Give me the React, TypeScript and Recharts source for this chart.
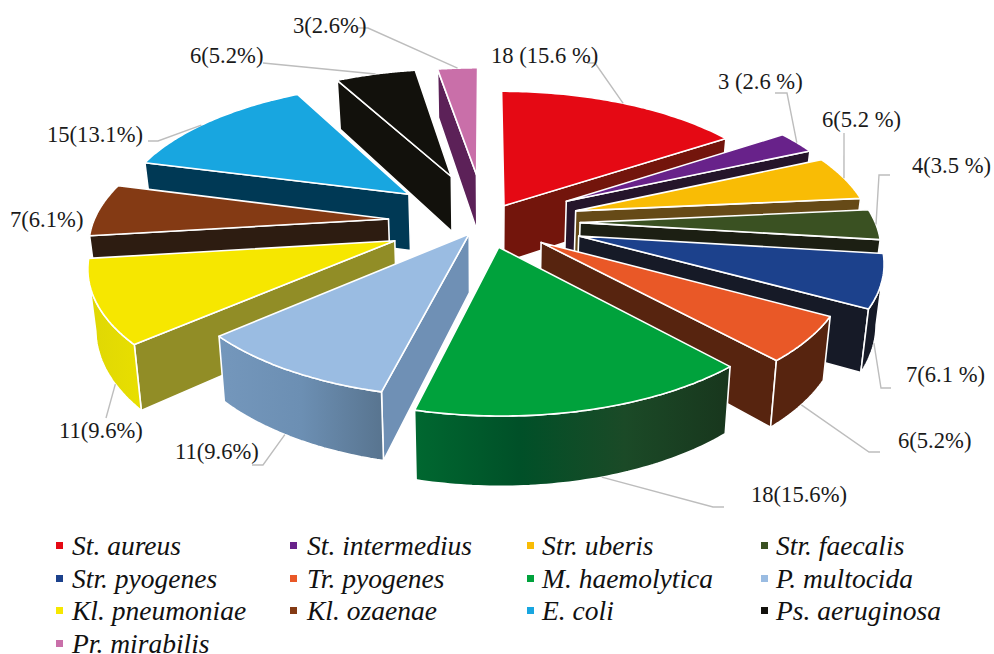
import { Legend, Pie, PieChart } from 'recharts';

const species = [
  'St. aureus',
  'St. intermedius',
  'Str. uberis',
  'Str. faecalis',
  'Str. pyogenes',
  'Tr. pyogenes',
  'M. haemolytica',
  'P. multocida',
  'Kl. pneumoniae',
  'Kl. ozaenae',
  'E. coli',
  'Ps. aeruginosa',
  'Pr. mirabilis',
];
const counts = [18, 3, 6, 4, 7, 6, 18, 11, 11, 7, 15, 6, 3];
const sliceLabels = [
  '18 (15.6 %)',
  '3 (2.6 %)',
  '6(5.2 %)',
  '4(3.5 %)',
  '7(6.1 %)',
  '6(5.2%)',
  '18(15.6%)',
  '11(9.6%)',
  '11(9.6%)',
  '7(6.1%)',
  '15(13.1%)',
  '6(5.2%)',
  '3(2.6%)',
];

const topColors = [
  '#E50914', '#68228A', '#F9BC05', '#3A5122', '#1C418C', '#E95827', '#00A23C',
  '#9ABCE2', '#F6E700', '#843A14', '#18A6E0', '#12110C', '#C96FA9',
];
const cutColors = [
  '#73150C', '#25152B', '#664A17', '#1C1F13', '#161A27', '#57240F', '#18361D',
  '#6F90B5', '#918D26', '#2D1C11', '#003955', '#12110C', '#5C2158',
];
// outer wall shading, left to right; one colour means flat
const wallStops = [
  ['#73150C'], ['#25152B'], ['#664A17'], ['#1C1F13'], ['#161A27'], ['#57240F'],
  ['#006830', '#005028', '#1B4A27', '#18361D'],
  ['#7497BC', '#6C8FB3', '#58748F'],
  ['#DFD705', '#E8DF00'],
  ['#2D1C11'], ['#003955'], ['#12110C'], ['#5C2158'],
];

// how far each slice is pulled out of the pie, ground units
const explode = [41, 95, 95, 95, 97, 70, 55, 30, 97, 97, 100, 110, 108];
// back to front
const paintOrder = [12, 11, 0, 10, 1, 2, 3, 9, 4, 8, 5, 7, 6];

type Spot = { x: number; y: number; elbow: number[][]; along: number; onWall: boolean };
const labelSpots: Spot[] = [
  { x: 491, y: 63, elbow: [[587, 63], [595, 63]], along: 0.5, onWall: false },
  { x: 718, y: 89, elbow: [[775, 93], [787, 93]], along: 0.5, onWall: false },
  { x: 822, y: 127, elbow: [[844, 133]], along: 0.5, onWall: false },
  { x: 912, y: 173, elbow: [[890, 175], [879, 175]], along: 0.5, onWall: false },
  { x: 906, y: 382, elbow: [[891, 388], [881, 388]], along: 0.5, onWall: true },
  { x: 898, y: 448, elbow: [[880, 452], [869, 452]], along: 0.5, onWall: true },
  { x: 751, y: 502, elbow: [[724, 507], [713, 507]], along: 0.45, onWall: true },
  { x: 175, y: 459, elbow: [[252, 465], [263, 465]], along: 0.55, onWall: true },
  { x: 59, y: 438, elbow: [[106, 418]], along: 0.3, onWall: true },
  { x: 10, y: 227, elbow: [], along: 0.5, onWall: false },
  { x: 47, y: 142, elbow: [[148, 141], [158, 141]], along: 0.45, onWall: false },
  { x: 190, y: 63, elbow: [[263, 63]], along: 0.5, onWall: false },
  { x: 293, y: 33, elbow: [[358, 28], [368, 28]], along: 0.5, onWall: false },
];

const WIDTH = 994;
const HEIGHT = 654;
const TILT = 0.46;
const VIEW_DISTANCE = 2000;
const THICKNESS = 58;
const TAPER = 0.02;
const SERIF = '"Liberation Serif", "Times New Roman", serif';

const rows = species.map((name, i) => ({ name, value: counts[i], slice: i }));

type Pt = { x: number; y: number; drop: number; lowX: number };

// ground plane -> screen, nearer points get larger and thicker, undersides pull slightly inward
const project = (cx: number, cy: number, gx: number, gy: number): Pt => {
  const k = 1 / (1 - gy / VIEW_DISTANCE);
  const x = cx + gx * k;
  return { x, y: cy + gy * TILT * k, drop: THICKNESS * k, lowX: x - (x - cx) * TAPER };
};

// angles arrive in chart convention, measure them clockwise from 12 o'clock instead
const clockwise = (deg: number) => ((90 - deg) * Math.PI) / 180;

const sliceGeometry = (props: any) => {
  const { cx, cy, outerRadius, startAngle, endAngle, slice } = props;
  const a0 = clockwise(startAngle);
  const a1 = clockwise(endAngle);
  const mid = (a0 + a1) / 2;
  const ox = explode[slice] * Math.sin(mid);
  const oy = -explode[slice] * Math.cos(mid);
  const at = (a: number) =>
    project(cx, cy, ox + outerRadius * Math.sin(a), oy - outerRadius * Math.cos(a));
  return { tip: project(cx, cy, ox, oy), at, a0, a1 };
};

const toPath = (pts: { x: number; y: number }[]) =>
  `M${pts.map((p) => `${p.x.toFixed(1)},${p.y.toFixed(1)}`).join('L')}Z`;
const lower = (p: Pt) => ({ x: p.lowX, y: p.y + p.drop });

function SliceShape(props: any) {
  const { slice, rank } = props;
  if (slice !== rank) return <g />;
  const { tip, at, a0, a1 } = sliceGeometry(props);
  const steps = 60;
  const arc: Pt[] = [];
  for (let i = 0; i <= steps; i++) arc.push(at(a0 + ((a1 - a0) * i) / steps));
  const first = arc[0];
  const last = arc[steps];

  // only the part of the rim that runs right to left on screen faces the viewer
  const wall = arc.filter((p, i) =>
    i < steps ? arc[i + 1].x < p.x : arc[i - 1].x > p.x,
  );
  const stops = wallStops[slice];
  const gradId = `wall-${slice}`;
  const edge = { stroke: '#fff', strokeWidth: 1.6, strokeLinejoin: 'round' as const };

  return (
    <g>
      <defs>
        <linearGradient id={gradId} x1="0" y1="0" x2="1" y2="0">
          {stops.map((c, i) => (
            <stop key={i} offset={stops.length > 1 ? i / (stops.length - 1) : 0} stopColor={c} />
          ))}
        </linearGradient>
      </defs>
      {first.x < tip.x && (
        <path d={toPath([tip, first, lower(first), lower(tip)])} fill={cutColors[slice]} {...edge} />
      )}
      {tip.x < last.x && (
        <path d={toPath([last, tip, lower(tip), lower(last)])} fill={cutColors[slice]} {...edge} />
      )}
      {wall.length > 1 && (
        <path d={toPath([...wall, ...wall.map(lower).reverse()])} fill={`url(#${gradId})`} {...edge} />
      )}
      <path d={toPath([tip, ...arc])} fill={topColors[slice]} {...edge} />
    </g>
  );
}

function SliceLabel(props: any) {
  const { slice, rank } = props;
  if (slice !== rank) return <g />;
  const spot = labelSpots[slice];
  const { at, a0, a1 } = sliceGeometry(props);
  const hit = at(a0 + (a1 - a0) * spot.along);
  const end = spot.onWall ? lower(hit) : hit;
  const leader = [...spot.elbow, [end.x, end.y]];
  return (
    <g>
      {spot.elbow.length > 0 && (
        <polyline
          points={leader.map((p) => p.join(',')).join(' ')}
          fill="none"
          stroke="#BDBDBD"
          strokeWidth={1.4}
        />
      )}
      <text x={spot.x} y={spot.y} fontFamily={SERIF} fontSize={22.6} fill="#1A1A1A" stroke="none">
        {sliceLabels[slice]}
      </text>
    </g>
  );
}

const markerColumns = [56, 290, 527, 761];
const nameColumns = [72, 307, 542, 776];
const LEGEND_TOP = 529;
const LEGEND_ROW = 32.7;

function SpeciesLegend() {
  return (
    <div style={{ position: 'relative', width: WIDTH, height: HEIGHT - LEGEND_TOP }}>
      {species.map((name, i) => {
        const top = Math.floor(i / 4) * LEGEND_ROW;
        return (
          <div key={name}>
            <span
              style={{
                position: 'absolute',
                left: markerColumns[i % 4],
                top: top + 12,
                width: 7,
                height: 7,
                background: topColors[i],
              }}
            />
            <span
              style={{
                position: 'absolute',
                left: nameColumns[i % 4],
                top,
                whiteSpace: 'nowrap',
                fontFamily: SERIF,
                fontStyle: 'italic',
                fontSize: 27.5,
                lineHeight: '32px',
                color: '#111',
              }}
            >
              {name}
            </span>
          </div>
        );
      })}
    </div>
  );
}

export default function App() {
  return (
    <div style={{ position: 'absolute', left: 0, top: 0, width: WIDTH, height: HEIGHT, overflow: 'hidden', background: '#fff' }}>
      <PieChart width={WIDTH} height={HEIGHT} margin={{ top: 0, right: 0, bottom: 0, left: 0 }}>
        {paintOrder.map((rank) => (
          <Pie
            key={rank}
            data={rows}
            dataKey="value"
            nameKey="name"
            cx={485}
            cy={222}
            innerRadius={0}
            outerRadius={295}
            startAngle={90}
            endAngle={-270}
            stroke="none"
            isAnimationActive={false}
            rootTabIndex={-1}
            shape={(p: any) => <SliceShape {...p} rank={rank} />}
            label={(p: any) => <SliceLabel {...p} rank={rank} />}
            labelLine={false}
          />
        ))}
        <Legend
          content={() => <SpeciesLegend />}
          wrapperStyle={{ position: 'absolute', left: 0, top: LEGEND_TOP + 1, width: WIDTH }}
        />
      </PieChart>
    </div>
  );
}
